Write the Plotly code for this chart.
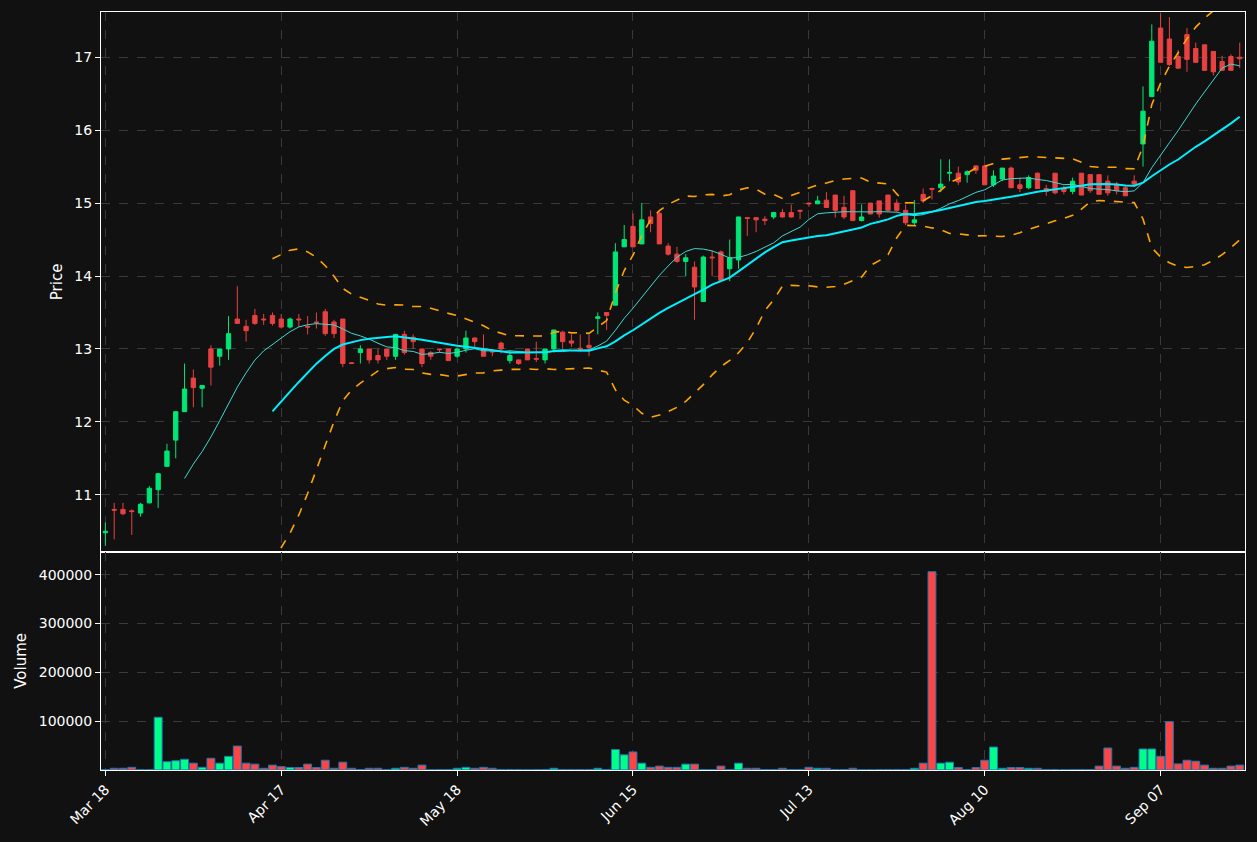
import plotly.graph_objects as go
from plotly.subplots import make_subplots
import pandas as pd

opens = [10.48,10.80,10.80,10.78,10.75,10.89,11.07,11.39,11.75,12.14,12.60,12.46,13.00,12.90,13.00,13.41,13.31,13.46,13.41,13.46,
         13.41,13.30,13.41,13.31,13.37,13.51,13.37,13.41,12.81,12.95,13.00,12.91,13.00,12.90,13.20,13.16,13.00,12.95,13.00,13.00,
         12.90,13.00,13.15,13.00,12.97,13.08,12.84,12.85,13.00,12.87,12.85,13.00,13.23,13.11,13.01,13.05,13.42,13.50,13.60,14.40,
         14.68,14.44,14.81,14.86,14.41,14.30,14.20,14.12,13.65,14.26,14.33,14.10,14.22,14.80,14.80,14.78,14.81,14.87,14.87,14.90,
         15.00,14.99,15.04,15.11,14.94,15.17,14.76,15.00,15.03,15.11,15.00,14.90,14.73,15.12,15.20,15.21,15.41,15.41,15.39,15.51,
         15.51,15.25,15.33,15.48,15.25,15.21,15.41,15.20,15.41,15.20,15.16,15.41,15.39,15.39,15.30,15.26,15.21,15.30,15.81,16.46,
         17.40,17.25,17.01,17.31,17.12,17.17,17.08,16.94,17.01,17.00]
closes = [10.50,10.79,10.74,10.77,10.87,11.09,11.29,11.60,12.14,12.45,12.47,12.50,12.75,13.00,13.21,13.35,13.25,13.35,13.40,13.35,
          13.30,13.41,13.40,13.30,13.36,13.21,13.21,12.80,12.80,13.00,12.85,12.85,12.90,13.20,12.95,13.10,12.80,12.90,12.99,12.84,
          13.00,13.15,13.10,12.90,12.96,13.00,12.91,12.80,12.85,12.86,13.00,13.26,13.10,13.08,13.00,13.02,13.44,13.46,14.33,14.50,
          14.40,14.77,14.72,14.44,14.30,14.20,14.25,13.85,14.26,14.25,13.94,14.25,14.81,14.79,14.77,14.76,14.87,14.81,14.81,14.89,
          14.99,15.03,14.94,14.90,14.81,14.76,14.81,14.85,14.85,14.90,14.90,14.73,14.77,15.03,15.19,15.26,15.42,15.29,15.43,15.45,
          15.25,15.37,15.48,15.21,15.20,15.35,15.20,15.16,15.14,15.16,15.30,15.11,15.17,15.12,15.14,15.17,15.10,15.26,16.26,17.22,
          16.93,16.90,16.85,16.97,16.93,16.82,16.80,16.82,16.82,16.98]
highs = [10.62,10.89,10.89,10.80,10.89,11.12,11.30,11.70,12.14,12.80,12.72,12.50,13.05,13.00,13.45,13.86,13.40,13.55,13.48,13.50,
         13.48,13.43,13.48,13.45,13.50,13.55,13.40,13.41,12.82,13.05,13.00,13.00,13.00,13.20,13.25,13.20,13.00,12.97,13.00,13.00,
         13.02,13.25,13.16,13.20,13.00,13.10,12.98,12.85,13.00,13.10,13.00,13.26,13.25,13.20,13.20,13.20,13.50,13.50,14.45,14.70,
         14.86,15.00,14.90,14.88,14.45,14.40,14.30,14.20,14.28,14.35,14.35,14.50,14.81,14.80,14.80,14.82,14.88,14.92,14.98,14.91,
         15.01,15.10,15.15,15.11,15.10,15.17,14.98,15.00,15.03,15.11,15.05,14.98,15.04,15.20,15.21,15.60,15.60,15.50,15.45,15.52,
         15.52,15.45,15.48,15.50,15.35,15.38,15.42,15.25,15.41,15.24,15.35,15.41,15.39,15.39,15.38,15.29,15.25,15.38,16.60,17.45,
         17.60,17.55,17.10,17.40,17.20,17.17,17.08,17.02,17.04,17.20]
lows = [10.30,10.39,10.72,10.45,10.70,10.88,10.82,11.39,11.50,12.14,12.20,12.20,12.50,12.77,12.85,13.35,13.10,13.33,13.33,13.32,
        13.28,13.28,13.30,13.20,13.28,13.18,13.15,12.75,12.80,12.80,12.80,12.80,12.85,12.85,12.92,13.00,12.75,12.85,12.95,12.84,
        12.88,12.95,13.00,12.90,12.90,12.94,12.80,12.78,12.85,12.82,12.80,12.95,13.00,13.03,12.96,12.90,13.20,13.26,13.60,14.40,
        14.40,14.44,14.60,14.44,14.28,14.18,14.00,13.40,13.65,14.00,13.94,13.93,14.10,14.55,14.60,14.70,14.78,14.80,14.80,14.78,
        14.95,14.99,14.94,14.80,14.78,14.76,14.75,14.85,14.80,14.88,14.88,14.70,14.70,15.00,15.05,15.15,15.30,15.25,15.28,15.40,
        15.25,15.22,15.30,15.21,15.15,15.19,15.20,15.10,15.12,15.12,15.12,15.11,15.14,15.12,15.10,15.12,15.10,15.22,15.50,16.46,
        16.93,16.88,16.85,16.80,16.93,16.82,16.75,16.82,16.82,16.85]
volumes = [1000,3500,3500,5500,500,500,108000,17000,19000,22000,14000,5500,24000,14000,28000,49000,14000,12000,3500,10000,
           7000,5000,5000,12000,5000,20000,3500,16000,3500,1000,3500,3500,500,3500,5500,3500,10000,500,1000,1000,
           3500,5500,3500,5500,3500,1000,1000,1000,500,1000,1000,3500,1000,1000,1000,1000,3500,1000,42000,31000,
           37000,14000,5500,8000,5500,5500,12000,12000,1000,1000,8000,1000,14000,3500,3500,1000,1000,3500,1000,1000,
           5500,3500,3500,1000,1000,3500,500,500,1000,1000,1000,1000,3500,14000,406000,14000,16000,5000,1000,5000,
           20000,47000,3500,5000,5000,3500,3500,1000,1000,500,1000,1000,1000,8000,45000,8000,3500,5500,43000,43000,
           28000,99000,12500,20000,18000,10000,3500,3500,8000,10000]
tick_positions = [0, 20, 40, 60, 80, 100, 120]
tick_labels = ["Mar 18", "Apr 17", "May 18", "Jun 15", "Jul 13", "Aug 10", "Sep 07"]

idx = list(range(len(closes)))
cs = pd.Series(closes)
ma10 = cs.rolling(10).mean()
ma20 = cs.rolling(20).mean()
sd20 = cs.rolling(20).std(ddof=0)
upper = ma20 + 2 * sd20
lower = ma20 - 2 * sd20

UP, DN = "#00e676", "#e84142"
vcolors = ["#00ff88" if c >= o else "#ff4444" for o, c in zip(opens, closes)]

fig = make_subplots(rows=2, cols=1, shared_xaxes=True, vertical_spacing=0,
                    row_heights=[0.712, 0.288])
fig.add_trace(go.Candlestick(x=idx, open=opens, high=highs, low=lows, close=closes,
                             increasing=dict(line=dict(color=UP, width=1), fillcolor=UP),
                             decreasing=dict(line=dict(color=DN, width=1), fillcolor=DN),
                             whiskerwidth=0, showlegend=False), row=1, col=1)
fig.add_trace(go.Scatter(x=idx, y=ma10, mode="lines", line=dict(color="#40d8d0", width=1),
                         showlegend=False), row=1, col=1)
fig.add_trace(go.Scatter(x=idx, y=ma20, mode="lines", line=dict(color="#00f0ff", width=2),
                         showlegend=False), row=1, col=1)
for b in (upper, lower):
    fig.add_trace(go.Scatter(x=idx, y=b, mode="lines", line=dict(color="#ffa500", width=1.6, dash="dash"),
                             showlegend=False), row=1, col=1)
fig.add_trace(go.Bar(x=idx, y=volumes, marker=dict(color=vcolors, line=dict(color="#1f77b4", width=1)),
                     width=0.9, showlegend=False), row=2, col=1)

axis_common = dict(showgrid=True, gridcolor="#3a3a3a", griddash="dash", gridwidth=1,
                   showline=True, linecolor="white", linewidth=1, mirror=True,
                   tickfont=dict(color="white", size=14), ticks="outside", tickcolor="white",
                   zeroline=False)
fig.update_xaxes(**axis_common, range=[-0.5, 129.6], tickvals=tick_positions, ticktext=tick_labels)
fig.update_xaxes(rangeslider_visible=False, row=1, col=1)
fig.update_xaxes(tickangle=-45, row=2, col=1)
fig.update_yaxes(**axis_common)
fig.update_yaxes(range=[10.22, 17.62], dtick=1, title=dict(text="Price", font=dict(color="white", size=15), standoff=8), row=1, col=1)
fig.update_yaxes(range=[0, 447000], tickvals=[100000, 200000, 300000, 400000], tickformat="d",
                 title=dict(text="Volume", font=dict(color="white", size=15), standoff=8), row=2, col=1)

fig.update_layout(width=1257, height=842, paper_bgcolor="#111111", plot_bgcolor="#111111",
                  margin=dict(l=101, r=12, t=12, b=72), bargap=0.1,
                  font=dict(family="DejaVu Sans", color="white", size=14))
fig.write_html("out.html", config={"displayModeBar": False})

with open("out.html", encoding="utf-8") as f:
    html = f.read()
html = html.replace("<head>", "<head><style>html,body{margin:0;padding:0;background:#111111;overflow:hidden}</style>", 1)
with open("out.html", "w", encoding="utf-8") as f:
    f.write(html)
